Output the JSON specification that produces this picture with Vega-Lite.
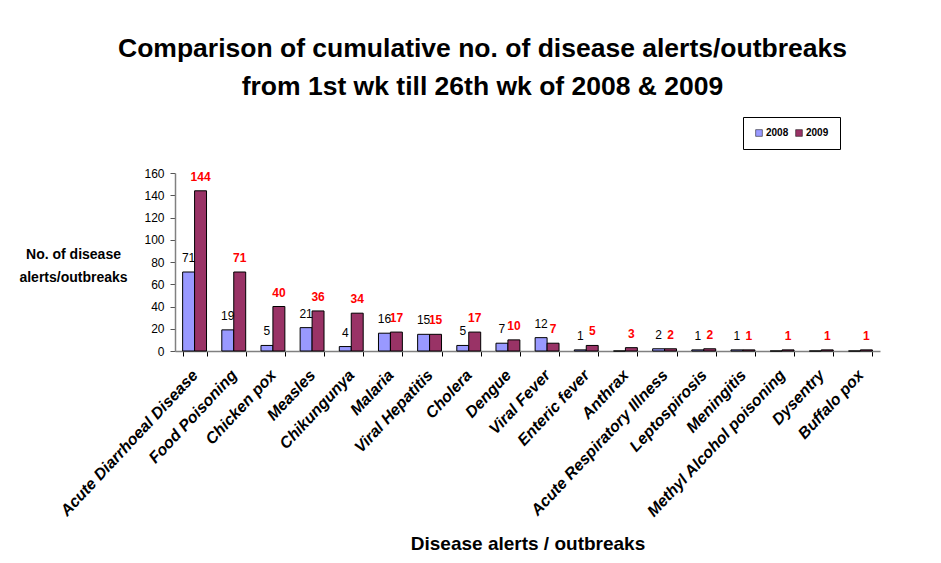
{
  "$schema": "https://vega.github.io/schema/vega-lite/v6.json",
  "autosize": {"type": "none"},
  "width": 705,
  "height": 178,
  "padding": {"left": 175, "top": 173, "right": 61, "bottom": 212},
  "background": "white",
  "title": {
    "text": ["Comparison of cumulative no. of disease alerts/outbreaks", "from 1st wk till 26th wk of 2008 & 2009"],
    "font": "Liberation Sans",
    "fontSize": 26.5,
    "fontWeight": "bold",
    "color": "black",
    "lineHeight": 38,
    "anchor": "middle",
    "frame": "group",
    "dx": -45,
    "offset": 16
  },
  "data": {
    "values": [
      {"disease": "Acute Diarrhoeal Disease", "year": "2008", "count": 71},
      {"disease": "Acute Diarrhoeal Disease", "year": "2009", "count": 144},
      {"disease": "Food Poisoning", "year": "2008", "count": 19},
      {"disease": "Food Poisoning", "year": "2009", "count": 71},
      {"disease": "Chicken pox", "year": "2008", "count": 5},
      {"disease": "Chicken pox", "year": "2009", "count": 40},
      {"disease": "Measles", "year": "2008", "count": 21},
      {"disease": "Measles", "year": "2009", "count": 36},
      {"disease": "Chikungunya", "year": "2008", "count": 4},
      {"disease": "Chikungunya", "year": "2009", "count": 34},
      {"disease": "Malaria", "year": "2008", "count": 16},
      {"disease": "Malaria", "year": "2009", "count": 17},
      {"disease": "Viral Hepatitis", "year": "2008", "count": 15},
      {"disease": "Viral Hepatitis", "year": "2009", "count": 15},
      {"disease": "Cholera", "year": "2008", "count": 5},
      {"disease": "Cholera", "year": "2009", "count": 17},
      {"disease": "Dengue", "year": "2008", "count": 7},
      {"disease": "Dengue", "year": "2009", "count": 10},
      {"disease": "Viral Fever", "year": "2008", "count": 12},
      {"disease": "Viral Fever", "year": "2009", "count": 7},
      {"disease": "Enteric fever", "year": "2008", "count": 1},
      {"disease": "Enteric fever", "year": "2009", "count": 5},
      {"disease": "Anthrax", "year": "2008", "count": 0},
      {"disease": "Anthrax", "year": "2009", "count": 3},
      {"disease": "Acute Respiratory Illness", "year": "2008", "count": 2},
      {"disease": "Acute Respiratory Illness", "year": "2009", "count": 2},
      {"disease": "Leptospirosis", "year": "2008", "count": 1},
      {"disease": "Leptospirosis", "year": "2009", "count": 2},
      {"disease": "Meningitis", "year": "2008", "count": 1},
      {"disease": "Meningitis", "year": "2009", "count": 1},
      {"disease": "Methyl Alcohol poisoning", "year": "2008", "count": 0},
      {"disease": "Methyl Alcohol poisoning", "year": "2009", "count": 1},
      {"disease": "Dysentry", "year": "2008", "count": 0},
      {"disease": "Dysentry", "year": "2009", "count": 1},
      {"disease": "Buffalo pox", "year": "2008", "count": 0},
      {"disease": "Buffalo pox", "year": "2009", "count": 1}
    ]
  },
  "encoding": {
    "x": {
      "field": "disease",
      "type": "nominal",
      "sort": null,
      "scale": {"paddingInner": 0.39, "paddingOuter": 0.195},
      "axis": {
        "title": "Disease alerts / outbreaks",
        "titleFont": "Liberation Sans",
        "titleFontSize": 19,
        "titleFontWeight": "bold",
        "titleColor": "black",
        "titleY": 198,
        "titleBaseline": "alphabetic",
        "labelAngle": -47,
        "labelAlign": "right",
        "labelBaseline": "middle",
        "labelFont": "Liberation Sans",
        "labelFontSize": 16,
        "labelFontWeight": "bold",
        "labelFontStyle": "italic",
        "labelColor": "black",
        "labelPadding": 16,
        "labelOverlap": false,
        "labelLimit": 300,
        "tickBand": "extent",
        "tickColor": "black",
        "tickSize": 5,
        "domainColor": "#808080",
        "domainWidth": 1.5
      }
    },
    "xOffset": {"field": "year", "type": "nominal"},
    "y": {
      "field": "count",
      "type": "quantitative",
      "scale": {"domain": [0, 160], "nice": false},
      "axis": {
        "values": [0, 20, 40, 60, 80, 100, 120, 140, 160],
        "grid": false,
        "title": ["No. of disease", "alerts/outbreaks"],
        "titleAngle": 0,
        "titleX": -102,
        "titleY": 81,
        "titleAlign": "center",
        "titleBaseline": "middle",
        "titleFont": "Liberation Sans",
        "titleFontSize": 14,
        "titleFontWeight": "bold",
        "titleColor": "black",
        "titleLineHeight": 23,
        "labelFont": "Liberation Sans",
        "labelFontSize": 12,
        "labelColor": "black",
        "labelPadding": 6,
        "tickColor": "#555555",
        "tickSize": 5,
        "domainColor": "#808080",
        "domainWidth": 1.5
      }
    }
  },
  "layer": [
    {
      "mark": {"type": "bar", "stroke": "black", "strokeWidth": 1},
      "encoding": {
        "color": {
          "field": "year",
          "type": "nominal",
          "scale": {"domain": ["2008", "2009"], "range": ["#9999FF", "#993366"]},
          "legend": {
            "title": null,
            "orient": "none",
            "legendX": 568,
            "legendY": -56,
            "direction": "horizontal",
            "strokeColor": "black",
            "fillColor": "white",
            "padding": 11,
            "symbolType": "square",
            "symbolSize": 45,
            "symbolStrokeColor": "black",
            "symbolStrokeWidth": 0.5,
            "labelFont": "Liberation Sans",
            "labelFontSize": 10,
            "labelFontWeight": "bold",
            "labelColor": "black",
            "columnPadding": 5,
            "labelOffset": 2
          }
        }
      }
    },
    {
      "transform": [{"filter": "datum.year == '2008' && datum.count > 0"}],
      "mark": {"type": "text", "baseline": "bottom", "dy": -7, "font": "Liberation Sans", "fontSize": 12, "color": "black"},
      "encoding": {"text": {"field": "count", "type": "quantitative"}}
    },
    {
      "transform": [{"filter": "datum.year == '2009' && datum.count > 0"}],
      "mark": {"type": "text", "baseline": "bottom", "dy": -7, "font": "Liberation Sans", "fontSize": 12, "fontWeight": "bold", "color": "#FF0000"},
      "encoding": {"text": {"field": "count", "type": "quantitative"}}
    }
  ],
  "config": {"view": {"stroke": null}}
}
